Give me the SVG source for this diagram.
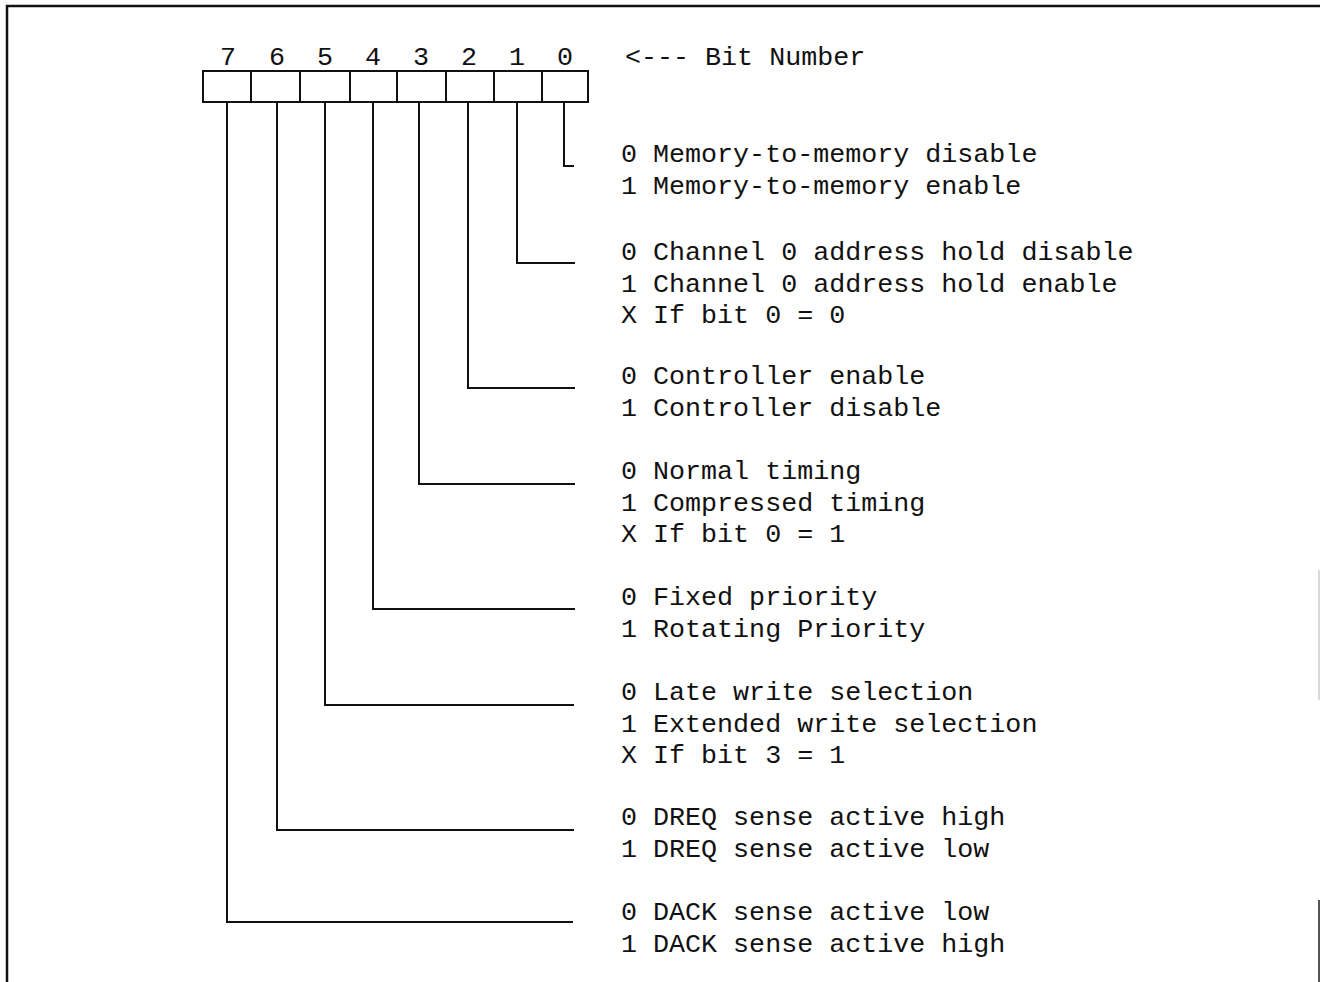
<svg xmlns="http://www.w3.org/2000/svg" width="1320" height="982" viewBox="0 0 1320 982">
<style>
text{font-family:"Liberation Mono","DejaVu Sans Mono",monospace;font-size:26.7px;fill:#111}
.ln{fill:none;stroke:#111;stroke-width:2}
.frame{fill:none;stroke:#111;stroke-width:2.5}
.num{text-anchor:middle}
</style>
<rect width="1320" height="982" fill="#fff"/>
<g id="frame">
<path class="frame" d="M7,982 V6 H1320"/>
<path d="M1319,570 V700" stroke="#ccc" stroke-width="1.5" fill="none"/>
<path d="M1319,900 V982" stroke="#555" stroke-width="2" fill="none"/>
</g>
<g id="register">
<rect class="ln" x="203" y="71" width="385" height="31"/>
<path class="ln" d="M251,71V102M300,71V102M350,71V102M397,71V102M446,71V102M494,71V102M542,71V102"/>
<text class="num" x="228" y="65">7</text>
<text class="num" x="277" y="65">6</text>
<text class="num" x="325" y="65">5</text>
<text class="num" x="373" y="65">4</text>
<text class="num" x="421" y="65">3</text>
<text class="num" x="469" y="65">2</text>
<text class="num" x="517" y="65">1</text>
<text class="num" x="565" y="65">0</text>
<text x="625" y="65">&lt;--- Bit Number</text>
</g>
<g id="connectors">
<path class="ln" d="M564,102V166H574"/>
<path class="ln" d="M517,102V263H575"/>
<path class="ln" d="M468,102V388H575"/>
<path class="ln" d="M419,102V484H575"/>
<path class="ln" d="M373,102V609H575"/>
<path class="ln" d="M325,102V705H574"/>
<path class="ln" d="M277,102V830H574"/>
<path class="ln" d="M227,102V922H573"/>
</g>
<g id="bit0">
<text x="621" y="162">0 Memory-to-memory disable</text>
<text x="621" y="193.5">1 Memory-to-memory enable</text>
</g>
<g id="bit1">
<text x="621" y="260">0 Channel 0 address hold disable</text>
<text x="621" y="291.5">1 Channel 0 address hold enable</text>
<text x="621" y="323">X If bit 0 = 0</text>
</g>
<g id="bit2">
<text x="621" y="384">0 Controller enable</text>
<text x="621" y="415.5">1 Controller disable</text>
</g>
<g id="bit3">
<text x="621" y="479">0 Normal timing</text>
<text x="621" y="510.5">1 Compressed timing</text>
<text x="621" y="542">X If bit 0 = 1</text>
</g>
<g id="bit4">
<text x="621" y="605">0 Fixed priority</text>
<text x="621" y="636.5">1 Rotating Priority</text>
</g>
<g id="bit5">
<text x="621" y="700">0 Late write selection</text>
<text x="621" y="731.5">1 Extended write selection</text>
<text x="621" y="763">X If bit 3 = 1</text>
</g>
<g id="bit6">
<text x="621" y="825">0 DREQ sense active high</text>
<text x="621" y="856.5">1 DREQ sense active low</text>
</g>
<g id="bit7">
<text x="621" y="920">0 DACK sense active low</text>
<text x="621" y="951.5">1 DACK sense active high</text>
</g>
</svg>
